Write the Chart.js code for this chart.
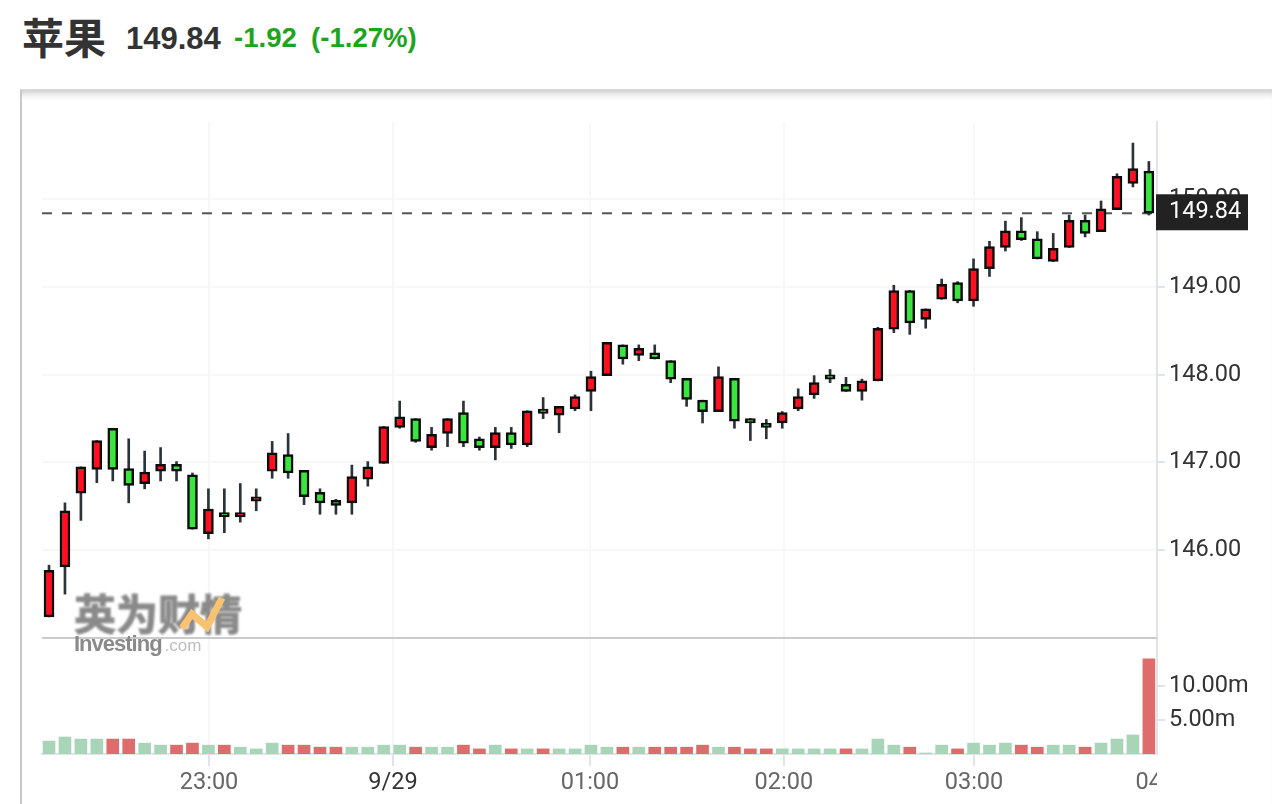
<!DOCTYPE html>
<html lang="zh">
<head>
    <meta charset="UTF-8">
    <title>苹果</title>
    <script src="https://cdn.jsdelivr.net/npm/chart.js"></script>
    <style>
        html, body {
            margin: 0;
            padding: 0;
            width: 1272px;
            height: 804px;
            overflow: hidden;
            background: #fff;
        }
        .head span {
            position: absolute;
            white-space: nowrap;
            font-family: "Liberation Sans", Arial, sans-serif;
            font-weight: bold;
            line-height: 1;
        }
        #name { left: 22px; top: 15px; font-size: 42px; color: #333; font-family: "Noto Sans CJK SC", sans-serif !important; }
        #price { left: 126px; top: 23px; font-size: 31px; color: #333; }
        #change { left: 234px; top: 24px; font-size: 27.6px; color: #1da51d; }
        #percent { left: 311px; top: 24px; font-size: 27.6px; color: #1da51d; }
        #frame {
            position: absolute;
            left: 20px;
            top: 89px;
            right: 0;
            bottom: 0;
            border-left: 2px solid #c9c9c9;
            border-top: 1px solid #dcdcdc;
            box-shadow: inset 0 9px 9px -7px rgba(0, 0, 0, 0.28);
        }
        #chart {
            position: absolute;
            left: 0;
            top: 0;
        }
        #mark-cn {
            position: absolute;
            left: 74px;
            top: 589px;
            font: bold 42px/1.1 "Noto Sans CJK SC", sans-serif;
            color: #8a8a8a;
            -webkit-text-stroke: 1px #8a8a8a;
            filter: blur(0.8px);
            white-space: nowrap;
        }
        #mark-bolt {
            position: absolute;
            left: 178px;
            top: 596px;
        }
        #mark-en {
            position: absolute;
            left: 74px;
            top: 633px;
            font: bold 22px/1 "Liberation Sans", Arial, sans-serif;
            letter-spacing: -1px;
            color: #8a8a8a;
            filter: blur(0.7px);
            white-space: nowrap;
        }
        #mark-en small {
            font-weight: normal;
            font-size: 17px;
            letter-spacing: 0;
            color: #bdbdbd;
            margin-left: 3px;
        }
    </style>
</head>
<body>
    <div class="head">
        <span id="name">苹果</span>
        <span id="price">149.84</span>
        <span id="change">-1.92</span>
        <span id="percent">(-1.27%)</span>
    </div>
    <div id="frame"></div>
    <canvas id="chart" width="1272" height="804"></canvas>
    <div id="mark-cn">英为财情</div>
    <svg id="mark-bolt" width="50" height="40"><polyline points="4,32 14,18 29,31 44,2" fill="none" stroke="#f8c26f" stroke-width="7"/></svg>
    <div id="mark-en">Investing<small>.com</small></div>

    <script>
        const opens = [145.24, 145.81, 146.65, 146.92, 147.39, 146.93, 146.76, 146.90, 146.98, 146.86,
            146.19, 146.43, 146.38, 146.56, 146.90, 147.09, 146.91, 146.66, 146.57, 146.54,
            146.81, 146.99, 147.40, 147.50, 147.17, 147.33, 147.57, 147.27, 147.17, 147.34,
            147.20, 147.61, 147.54, 147.61, 147.81, 147.99, 148.34, 148.22, 148.25, 148.16,
            147.96, 147.71, 147.58, 147.96, 147.50, 147.45, 147.45, 147.61, 147.77, 148.00,
            147.89, 147.81, 147.93, 148.52, 148.96, 148.63, 148.86, 149.05, 148.84, 149.21,
            149.45, 149.64, 149.55, 149.29, 149.45, 149.76, 149.63, 149.88, 150.18, 150.32];
        const closes = [145.77, 146.45, 146.95, 147.25, 146.92, 146.74, 146.89, 146.98, 146.90, 146.24,
            146.47, 146.38, 146.43, 146.61, 147.11, 146.88, 146.61, 146.54, 146.51, 146.84,
            146.95, 147.41, 147.52, 147.24, 147.32, 147.50, 147.22, 147.17, 147.34, 147.20,
            147.59, 147.56, 147.64, 147.75, 147.98, 148.37, 148.18, 148.30, 148.18, 147.95,
            147.72, 147.58, 147.98, 147.47, 147.45, 147.40, 147.57, 147.75, 147.91, 147.95,
            147.81, 147.93, 148.53, 148.96, 148.59, 148.75, 149.03, 148.84, 149.21, 149.46,
            149.64, 149.54, 149.32, 149.44, 149.76, 149.61, 149.89, 150.26, 150.35, 149.84];
        const highs = [145.83, 146.54, 146.95, 147.25, 147.39, 147.27, 147.13, 147.17, 147.01, 146.88,
            146.70, 146.70, 146.76, 146.70, 147.24, 147.33, 146.91, 146.70, 146.58, 146.97,
            147.01, 147.41, 147.70, 147.50, 147.40, 147.50, 147.70, 147.29, 147.40, 147.40,
            147.59, 147.74, 147.64, 147.77, 148.04, 148.37, 148.34, 148.34, 148.34, 148.16,
            147.96, 147.71, 148.09, 147.96, 147.50, 147.49, 147.58, 147.84, 147.99, 148.06,
            147.97, 147.95, 148.54, 149.02, 148.96, 148.75, 149.09, 149.06, 149.32, 149.52,
            149.75, 149.79, 149.63, 149.61, 149.82, 149.82, 149.98, 150.29, 150.64, 150.43];
        const lows = [145.24, 145.50, 146.34, 146.77, 146.79, 146.54, 146.70, 146.79, 146.79, 146.24,
            146.13, 146.20, 146.32, 146.45, 146.82, 146.82, 146.52, 146.41, 146.41, 146.41,
            146.73, 146.99, 147.39, 147.23, 147.14, 147.18, 147.18, 147.14, 147.03, 147.16,
            147.18, 147.50, 147.34, 147.59, 147.59, 147.99, 148.12, 148.16, 148.18, 147.91,
            147.64, 147.45, 147.58, 147.39, 147.25, 147.27, 147.39, 147.59, 147.73, 147.91,
            147.81, 147.71, 147.93, 148.48, 148.46, 148.53, 148.86, 148.82, 148.78, 149.12,
            149.41, 149.53, 149.32, 149.29, 149.45, 149.57, 149.63, 149.88, 150.14, 149.82];
        // volume in millions
        const volumes = [1.9, 2.5, 2.2, 2.2, 2.2, 2.2, 1.6, 1.3, 1.3, 1.6,
            1.3, 1.3, 1.0, 0.75, 1.6, 1.3, 1.3, 1.0, 1.0, 1.0,
            1.0, 1.3, 1.3, 1.0, 1.0, 1.0, 1.3, 0.75, 1.3, 0.75,
            0.75, 0.75, 0.75, 0.75, 1.3, 1.0, 1.0, 1.0, 1.0, 1.0,
            1.0, 1.3, 1.0, 1.0, 0.75, 0.75, 0.75, 0.75, 0.75, 0.75,
            0.75, 0.75, 2.2, 1.3, 1.0, 0.15, 1.3, 0.75, 1.6, 1.3,
            1.6, 1.3, 1.0, 1.3, 1.3, 1.0, 1.6, 2.2, 2.8, 14.0];
        // 1 = red bar, 0 = green bar (does not always follow the candle colour)
        const volumeRed = [0, 0, 0, 0, 1, 1, 0, 0, 1, 1,
            0, 1, 0, 0, 0, 1, 1, 1, 1, 0,
            0, 0, 0, 1, 0, 0, 1, 1, 0, 1,
            0, 1, 0, 0, 0, 0, 1, 0, 1, 1,
            1, 1, 0, 1, 1, 1, 0, 0, 0, 0,
            1, 0, 0, 0, 1, 0, 0, 1, 0, 0,
            0, 1, 1, 0, 0, 1, 0, 0, 0, 1];
        const lastPrice = 149.84;
        const priceTicks = [146, 147, 148, 149, 150];
        const volumeTicks = [5, 10];
        // 04:00 sits just past the last candle, outside the plot
        const timeTickSlots = [10.04, 21.58, 33.94, 46.1, 58.03, 70];
        const timeLabels = ['23:00', '9/29', '01:00', '02:00', '03:00', '04:00'];

        const RED = '#ff1020';
        const GREEN = '#38e63e';
        const GRID = '#f7f7f8';
        const AXIS = '#e0e3eb';
        const xMin = -0.44;
        const xMax = 69.51;
        const labelFont = { family: 'Roboto', size: 23.5 };

        const slots = opens.map((_, i) => i);

        // fixes the right and bottom gutters so the plot lands where it should
        const fitRight = scale => { scale.width = 115; };
        const fitBottom = scale => { scale.height = 50; };

        // the grey rule between panels, the price tag, and the cut-off 04:00 label
        const overlay = {
            id: 'overlay',
            afterDraw(chart) {
                const { ctx, chartArea, scales } = chart;
                ctx.save();
                ctx.clearRect(chartArea.right, chartArea.bottom + 2, 115, 50);

                ctx.fillStyle = '#cbcbcb';
                ctx.fillRect(chartArea.left, scales.yVol.top - 1, chartArea.right - chartArea.left, 2);

                const y = scales.y.getPixelForValue(lastPrice);
                ctx.fillStyle = '#222222';
                ctx.fillRect(chartArea.right - 1, y - 19, 92, 36);
                ctx.fillStyle = '#ffffff';
                ctx.font = '23.5px Roboto';
                ctx.textBaseline = 'middle';
                ctx.fillText(lastPrice.toFixed(2), chartArea.right + 12, y - 1);
                ctx.restore();
            }
        };

        new Chart(document.getElementById('chart'), {
            type: 'bar',
            plugins: [overlay],
            data: {
                datasets: [
                    {
                        label: 'Last',
                        type: 'line',
                        data: [{ x: xMin, y: lastPrice }, { x: xMax, y: lastPrice }],
                        borderColor: '#555555',
                        borderWidth: 2,
                        borderDash: [10, 10],
                        pointRadius: 0,
                        yAxisID: 'y',
                        order: 3
                    },
                    {
                        label: 'Wick',
                        data: slots.map(i => ({ x: i, y: [lows[i], highs[i]] })),
                        backgroundColor: '#2b3338',
                        barThickness: 2,
                        grouped: false,
                        yAxisID: 'y',
                        order: 2
                    },
                    {
                        label: 'Body',
                        data: slots.map(i => ({ x: i, y: [opens[i], closes[i]] })),
                        backgroundColor: slots.map(i => closes[i] >= opens[i] ? RED : GREEN),
                        borderColor: '#0c0c0c',
                        borderWidth: 2.5,
                        borderSkipped: false,
                        barThickness: 10,
                        grouped: false,
                        yAxisID: 'y',
                        order: 1
                    },
                    {
                        label: 'Volume',
                        data: slots.map(i => ({ x: i, y: volumes[i] })),
                        backgroundColor: volumeRed.map(r => r ? '#df6c6c' : '#a8d5b8'),
                        barThickness: 12,
                        grouped: false,
                        yAxisID: 'yVol',
                        order: 1
                    }
                ]
            },
            options: {
                responsive: false,
                animation: false,
                events: [],
                layout: { padding: { left: 42, top: 122, right: 0, bottom: 0 } },
                plugins: { legend: { display: false }, tooltip: { enabled: false } },
                scales: {
                    x: {
                        type: 'linear',
                        offset: false,
                        min: xMin,
                        max: xMax,
                        afterBuildTicks: scale => { scale.ticks = timeTickSlots.map(v => ({ value: v })); },
                        afterFit: fitBottom,
                        grid: {
                            offset: false,
                            color: ctx => ctx.index === 5 ? 'transparent' : GRID,
                            lineWidth: 2,
                            tickLength: 12,
                            tickColor: ctx => ctx.index === 5 ? 'transparent' : AXIS
                        },
                        border: { color: AXIS, width: 2 },
                        ticks: {
                            autoSkip: false,
                            maxRotation: 0,
                            padding: 3,
                            font: labelFont,
                            color: ctx => ctx.index === 1 ? '#333333' : '#666666',
                            callback: (value, index) => timeLabels[index]
                        }
                    },
                    y: {
                        position: 'right',
                        stack: 'panels',
                        stackWeight: 516,
                        weight: 0,
                        min: 145.0,
                        max: 150.88,
                        afterBuildTicks: scale => { scale.ticks = priceTicks.map(v => ({ value: v })); },
                        afterFit: fitRight,
                        grid: { color: GRID, lineWidth: 2, tickLength: 8, tickColor: AXIS },
                        border: { color: AXIS, width: 2 },
                        ticks: {
                            padding: 4,
                            font: labelFont,
                            color: '#333333',
                            callback: value => value.toFixed(2)
                        }
                    },
                    yVol: {
                        position: 'right',
                        stack: 'panels',
                        stackWeight: 116,
                        weight: 1,
                        min: 0,
                        max: 17.06,
                        afterBuildTicks: scale => { scale.ticks = volumeTicks.map(v => ({ value: v })); },
                        afterFit: fitRight,
                        grid: { drawOnChartArea: false, lineWidth: 2, tickLength: 8, tickColor: AXIS },
                        border: { color: AXIS, width: 2 },
                        ticks: {
                            padding: 4,
                            font: labelFont,
                            color: '#333333',
                            callback: value => value.toFixed(2) + 'm'
                        }
                    }
                }
            }
        });
    </script>
</body>
</html>
